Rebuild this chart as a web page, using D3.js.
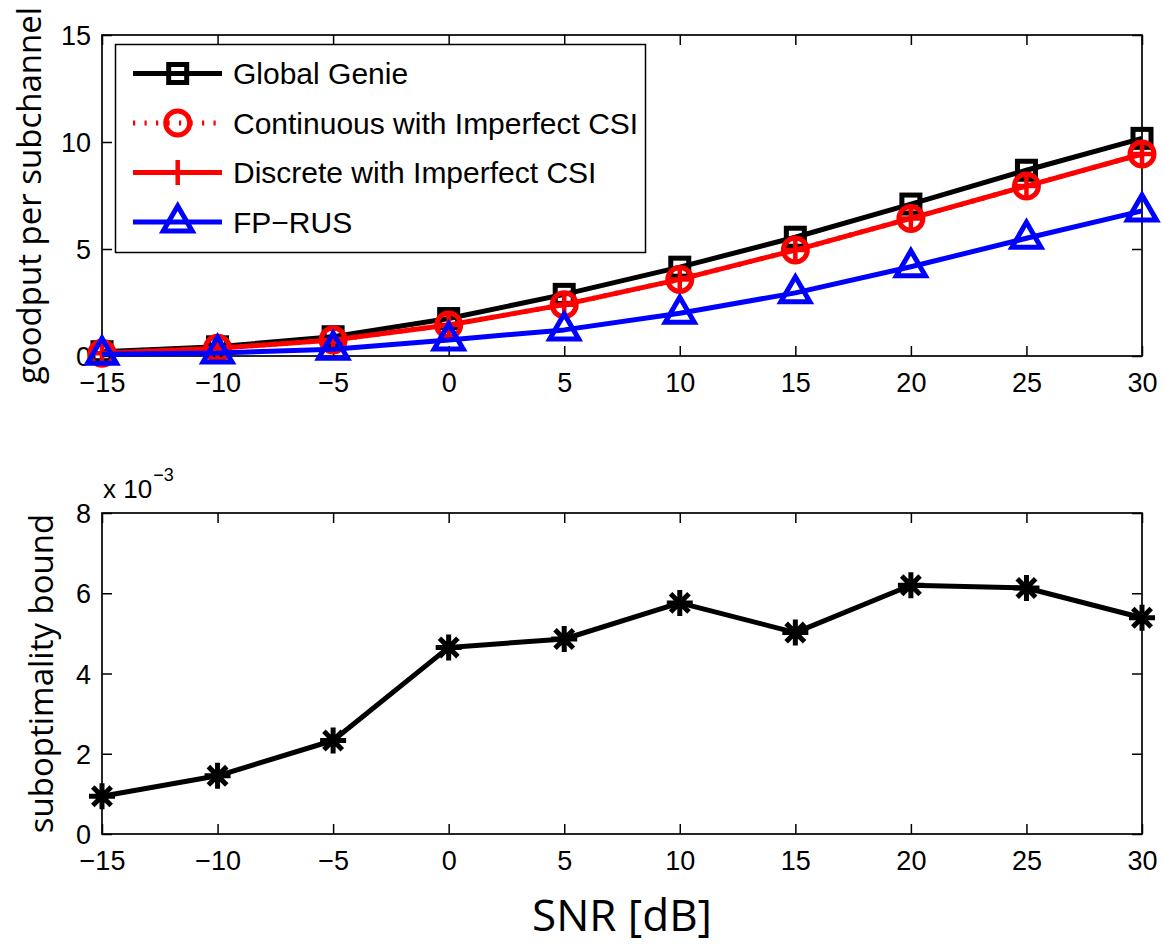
<!DOCTYPE html>
<html>
<head>
<meta charset="utf-8">
<script src="https://cdn.jsdelivr.net/npm/d3@7"></script>
<style>
  html, body { margin: 0; padding: 0; background: #fff; }
  svg { display: block; }
</style>
</head>
<body>
<svg id="chart" width="1163" height="944"></svg>
<script>
// SNR grid (dB)
const snr = [-15, -10, -5, 0, 5, 10, 15, 20, 25, 30];
const snrTicks = [-15, -10, -5, 0, 5, 10, 15, 20, 25, 30];

// goodput per subchannel
const globalGenie   = [0.20, 0.43, 0.90, 1.75, 2.88, 4.15, 5.55, 7.10, 8.68, 10.17];
const continuousCSI = [0.13, 0.36, 0.75, 1.45, 2.40, 3.58, 4.95, 6.43, 7.94, 9.44];
const discreteCSI   = [0.13, 0.36, 0.75, 1.45, 2.40, 3.58, 4.95, 6.43, 7.94, 9.44];
const fpRus         = [0.08, 0.14, 0.32, 0.75, 1.22, 2.00, 2.95, 4.17, 5.50, 6.78];
const goodputTicks  = [0, 5, 10, 15];

// suboptimality bound
const subBound   = [0.00094, 0.00145, 0.00233, 0.00465, 0.00486, 0.00576, 0.00502, 0.00620, 0.00613, 0.00539];
const boundTicks = [0, 0.002, 0.004, 0.006, 0.008];

const legendLabels = ["Global Genie", "Continuous with Imperfect CSI", "Discrete with Imperfect CSI", "FP\u2212RUS"];

const svg = d3.select("#chart");
const TICK_FONT = "'Liberation Sans', Arial, Helvetica, sans-serif";
const LABEL_FONT = "'Open Sans', 'Noto Sans', sans-serif";

const left = 102, right = 1142;
const topPanel = { y0: 35, y1: 356 };
const botPanel = { y0: 513, y1: 834 };

const x = d3.scaleLinear().domain([-15, 30]).range([left, right]);
const yTop = d3.scaleLinear().domain([0, 15]).range([topPanel.y1, topPanel.y0]);
const yBot = d3.scaleLinear().domain([0, 0.008]).range([botPanel.y1, botPanel.y0]);

// ---------- marker shapes ----------
function drawMarker(g, kind, cx, cy, color) {
  const sw = 5;
  if (kind === "square") {
    const s = 18;
    g.append("rect").attr("x", cx - s / 2).attr("y", cy - s / 2).attr("width", s).attr("height", s)
      .attr("fill", "none").attr("stroke", color).attr("stroke-width", sw);
  } else if (kind === "circle") {
    g.append("circle").attr("cx", cx).attr("cy", cy).attr("r", 12)
      .attr("fill", "none").attr("stroke", color).attr("stroke-width", sw);
  } else if (kind === "plus") {
    const h = 12.5;
    g.append("path").attr("d", `M${cx - h},${cy}H${cx + h}M${cx},${cy - h}V${cy + h}`)
      .attr("stroke", color).attr("stroke-width", 4.5).attr("fill", "none");
  } else if (kind === "triangle") {
    g.append("path").attr("d", `M${cx},${cy - 16}L${cx + 14.5},${cy + 9}L${cx - 14.5},${cy + 9}Z`)
      .attr("fill", "none").attr("stroke", color).attr("stroke-width", sw).attr("stroke-linejoin", "miter");
  } else if (kind === "star") {
    const h = 13, d = 9.2;
    g.append("path").attr("d",
      `M${cx - h},${cy}H${cx + h}M${cx},${cy - h}V${cy + h}` +
      `M${cx - d},${cy - d}L${cx + d},${cy + d}M${cx - d},${cy + d}L${cx + d},${cy - d}`)
      .attr("stroke", color).attr("stroke-width", 5).attr("fill", "none");
  }
}

// ---------- axes frame with inward ticks on all four sides ----------
function drawAxes(yScale, yTicks, yFmt, panel) {
  const g = svg.append("g");
  const tk = 10;

  const bottom = g.append("g").attr("transform", `translate(0,${panel.y1})`)
    .call(d3.axisBottom(x).tickValues(snrTicks).tickSize(-tk).tickPadding(17).tickFormat(d3.format("d")));
  const topAx = g.append("g").attr("transform", `translate(0,${panel.y0})`)
    .call(d3.axisTop(x).tickValues(snrTicks).tickSize(-tk).tickFormat(""));
  const leftAx = g.append("g").attr("transform", `translate(${left},0)`)
    .call(d3.axisLeft(yScale).tickValues(yTicks).tickSize(-tk).tickPadding(11).tickFormat(yFmt));
  const rightAx = g.append("g").attr("transform", `translate(${right},0)`)
    .call(d3.axisRight(yScale).tickValues(yTicks).tickSize(-tk).tickFormat(""));

  [bottom, topAx, leftAx, rightAx].forEach(a => {
    a.select(".domain").remove();
    a.selectAll(".tick line").attr("stroke", "#000").attr("stroke-width", 1.5);
    a.selectAll("text").attr("font-family", TICK_FONT).attr("font-size", 27).attr("fill", "#000");
  });
  leftAx.selectAll("text").attr("dy", "0.36em");

  g.append("rect").attr("x", left).attr("y", panel.y0)
    .attr("width", right - left).attr("height", panel.y1 - panel.y0)
    .attr("fill", "none").attr("stroke", "#000").attr("stroke-width", 1.7);
  return g;
}

// ---------- upper panel: goodput ----------
drawAxes(yTop, goodputTicks, d3.format("d"), topPanel);

svg.append("text")
  .attr("transform", `translate(41,${(topPanel.y0 + topPanel.y1) / 2}) rotate(-90)`)
  .attr("text-anchor", "middle").attr("font-family", LABEL_FONT).attr("font-size", 33)
  .attr("fill", "#000").text("goodput per subchannel");

const series = [
  { name: legendLabels[0], values: globalGenie,   color: "#000000", marker: "square",   dash: null },
  { name: legendLabels[1], values: continuousCSI, color: "#ff0000", marker: "circle",   dash: "2.2 9.3" },
  { name: legendLabels[2], values: discreteCSI,   color: "#ff0000", marker: "plus",     dash: null },
  { name: legendLabels[3], values: fpRus,         color: "#0000ff", marker: "triangle", dash: null }
];

const line = d3.line().x(d => x(d[0])).y(d => yTop(d[1]));
series.forEach(s => {
  const g = svg.append("g");
  const pts = snr.map((v, i) => [v, s.values[i]]);
  g.append("path").datum(pts).attr("d", line)
    .attr("fill", "none").attr("stroke", s.color).attr("stroke-width", 5)
    .attr("stroke-linejoin", "round")
    .attr("stroke-dasharray", s.dash);
  pts.forEach(p => drawMarker(g, s.marker, x(p[0]), yTop(p[1]), s.color));
});

// legend
const lg = svg.append("g");
lg.append("rect").attr("x", 115.5).attr("y", 44.5).attr("width", 530).attr("height", 208)
  .attr("fill", "#fff").attr("stroke", "#000").attr("stroke-width", 1.5);
series.forEach((s, i) => {
  const ry = 73.5 + i * 49.5;
  lg.append("line").attr("x1", 133).attr("x2", 222).attr("y1", ry).attr("y2", ry)
    .attr("stroke", s.color).attr("stroke-width", 5).attr("stroke-dasharray", s.dash);
  drawMarker(lg, s.marker, 177.7, ry, s.color);
  lg.append("text").attr("x", 233).attr("y", ry + 10.5)
    .attr("font-family", TICK_FONT).attr("font-size", 30).attr("fill", "#000").text(s.name);
});

// ---------- lower panel: suboptimality bound ----------
drawAxes(yBot, boundTicks, d => d3.format("d")(Math.round(d * 1000)), botPanel);

const sci = svg.append("text").attr("x", 103).attr("y", 498)
  .attr("font-family", TICK_FONT).attr("font-size", 26).attr("fill", "#000");
sci.append("tspan").text("x 10");
sci.append("tspan").attr("dy", -17).attr("dx", 1).attr("font-size", 18).text("\u22123");

svg.append("text")
  .attr("transform", `translate(53,${(botPanel.y0 + botPanel.y1) / 2}) rotate(-90)`)
  .attr("text-anchor", "middle").attr("font-family", LABEL_FONT).attr("font-size", 33)
  .attr("fill", "#000").text("suboptimality bound");

const lineB = d3.line().x(d => x(d[0])).y(d => yBot(d[1]));
const gb = svg.append("g");
const bpts = snr.map((v, i) => [v, subBound[i]]);
gb.append("path").datum(bpts).attr("d", lineB)
  .attr("fill", "none").attr("stroke", "#000").attr("stroke-width", 5).attr("stroke-linejoin", "round");
bpts.forEach(p => drawMarker(gb, "star", x(p[0]), yBot(p[1]), "#000"));

svg.append("text").attr("x", (left + right) / 2).attr("y", 931)
  .attr("text-anchor", "middle").attr("font-family", LABEL_FONT).attr("font-size", 44)
  .attr("fill", "#000").text("SNR [dB]");
</script>
</body>
</html>
